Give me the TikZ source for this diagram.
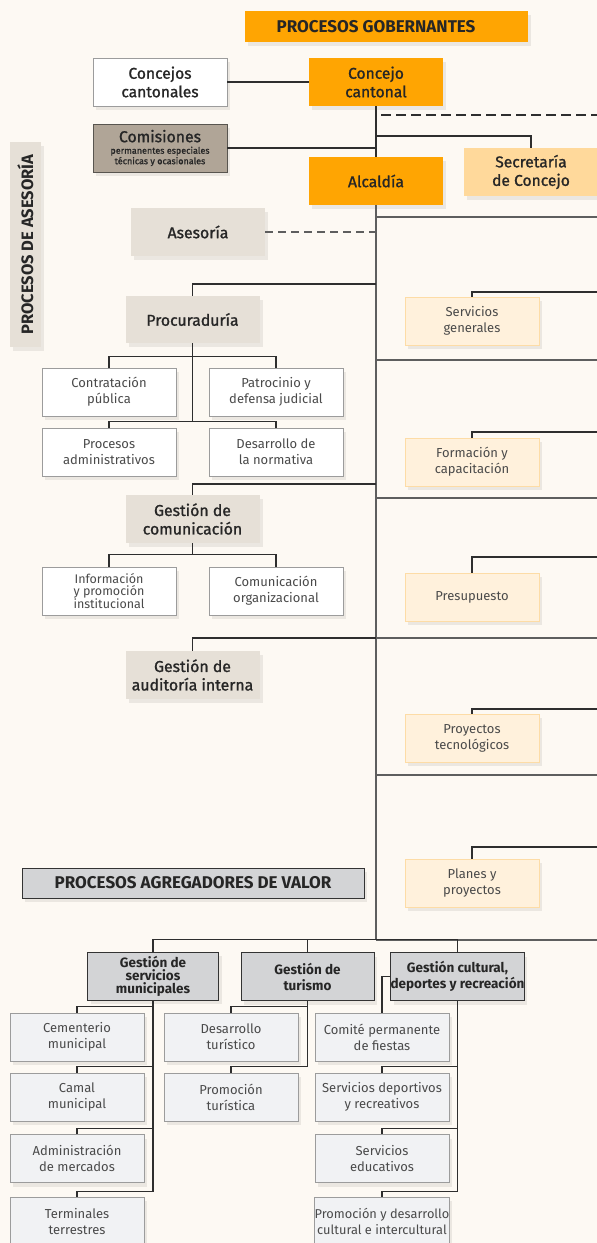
\documentclass[tikz,border=0pt]{standalone}
\usepackage{fontspec}
\setmainfont{Fira Sans}
\newfontfamily\fmed{Fira Sans}[FakeBold=1.2]
\newfontfamily\fsemi{Fira Sans Bold}
\newfontfamily\flight{Fira Sans}
\usetikzlibrary{shadows}
\definecolor{bgc}{HTML}{FDF9F3}
\definecolor{orangeC}{HTML}{FFA502}
\definecolor{secrC}{HTML}{FFD99B}
\definecolor{paleC}{HTML}{FFF1DC}
\definecolor{paleB}{HTML}{FDDCA6}
\definecolor{beigeC}{HTML}{E6E0D7}
\definecolor{comisC}{HTML}{B0A597}
\definecolor{comisB}{HTML}{58554F}
\definecolor{grayC}{HTML}{D3D4D6}
\definecolor{grayB}{HTML}{333333}
\definecolor{lgC}{HTML}{F1F2F4}
\definecolor{lgB}{HTML}{9C9C9C}
\definecolor{lineC}{HTML}{2E2E2E}
\definecolor{frameC}{HTML}{5E5E5E}
\definecolor{txtD}{HTML}{262626}
\definecolor{txtL}{HTML}{4A4A4A}
\tikzset{
  base/.style={rectangle, inner sep=0pt, align=center, minimum width=134pt, minimum height=48pt},
  shad/.style={drop shadow={shadow xshift=3pt, shadow yshift=-4pt, opacity=0.07, fill=black}},
  orangebox/.style={base, shad, fill=orangeC, text=txtD, font=\fmed\fontsize{15.6}{18.5}\selectfont},
  orangehead/.style={base, shad, fill=orangeC, text=txtD, font=\fsemi\fontsize{17}{19}\selectfont},
  secrbox/.style={base, shad, fill=secrC, text=txtD, font=\fmed\fontsize{15.6}{18.5}\selectfont},
  whitehead/.style={base, shad, fill=white, draw=lgB, line width=0.8pt, text=txtD, font=\fmed\fontsize{15.6}{18.5}\selectfont},
  whitebox/.style={base, shad, fill=white, draw=lgB, line width=0.8pt, text=txtL, font=\flight\fontsize{13}{16}\selectfont},
  comisbox/.style={base, shad, fill=comisC, draw=comisB, line width=0.9pt, text=txtD, font=\fmed\fontsize{9}{10.5}\selectfont},
  beigebox/.style={base, shad, fill=beigeC, text=txtD, font=\fmed\fontsize{15.8}{18.5}\selectfont},
  labelbox/.style={base, shad, fill=beigeC, text=txtD, font=\fsemi\fontsize{16.5}{18}\selectfont},
  palebox/.style={base, shad, fill=paleC, draw=paleB, line width=1pt, text=txtL, font=\flight\fontsize{13}{16}\selectfont},
  agvbox/.style={base, shad, fill=grayC, draw=grayB, line width=1pt, text=txtD, font=\fsemi\fontsize{17}{19}\selectfont},
  graybox/.style={base, shad, fill=grayC, draw=grayB, line width=1pt, text=txtD, font=\fsemi\fontsize{13.5}{13}\selectfont},
  lgbox/.style={base, shad, fill=lgC, draw=lgB, line width=0.8pt, text=txtL, font=\flight\fontsize{13}{16}\selectfont},
  conn/.style={draw=lineC, line width=1.1pt},
  framel/.style={draw=frameC, line width=2pt},
  dashdark/.style={draw=lineC, line width=1.1pt, dash pattern=on 10pt off 5pt},
  dashgray/.style={draw=frameC, line width=1.1pt, dash pattern=on 8pt off 5pt}
}
\begin{document}
\begin{tikzpicture}[x=1pt,y=-1pt]
\fill[bgc] (0,0) rectangle (597,1243);
\useasboundingbox (0,0) rectangle (597,1243);
\clip (0,0) rectangle (597,1243);

% ---------- nodes ----------
\node[orangehead, minimum width=283pt, minimum height=31pt] (gob) at (386.5,26.5) {\hspace*{-21pt}PROCESOS GOBERNANTES};
\node[whitehead] (cconc) at (160,82) {Concejos\\cantonales};
\node[orangebox] (ccant) at (376,82) {Concejo\\cantonal};
\node[comisbox] (comis) at (160,148) {{\fontsize{15.8}{15.8}\selectfont Comisiones}\\[1pt]permanentes especiales\\técnicas y ocasionales};
\node[orangebox] (alc) at (376,181) {Alcaldía};
\node[secrbox] (secr) at (531,172) {Secretaría\\de Concejo};
\node[beigebox] (ases) at (198,232) {Asesoría};
\node[labelbox, rotate=90, minimum width=205pt, minimum height=31pt] (lab) at (25.5,244.5) {PROCESOS DE ASESORÍA};

\node[beigebox, minimum height=47pt] (procu) at (192.5,319.5) {Procuraduría};
\node[whitebox] (contr) at (109,392) {Contratación\\pública};
\node[whitebox] (patro) at (276,392) {Patrocinio y\\defensa judicial};
\node[whitebox] (procad) at (109,452) {Procesos\\administrativos};
\node[whitebox] (desn) at (276,452) {Desarrollo de\\la normativa};
\node[beigebox] (gcom) at (192.5,519) {Gestión de\\comunicación};
\node[whitebox, font=\flight\fontsize{12.5}{12.5}\selectfont] (info) at (109,591) {Información\\y promoción\\institucional};
\node[whitebox] (corg) at (276,591) {Comunicación\\organizacional};
\node[beigebox] (audit) at (192.5,675) {Gestión de\\auditoría interna};

\node[palebox] (sgen) at (472,321) {Servicios\\generales};
\node[palebox] (form) at (472,462) {Formación y\\capacitación};
\node[palebox] (presu) at (472,597) {Presupuesto};
\node[palebox] (ptec) at (472,738) {Proyectos\\tecnológicos};
\node[palebox] (planes) at (472,883) {Planes y\\proyectos};

\node[agvbox, minimum width=342pt, minimum height=30pt] (agv) at (193,883) {PROCESOS AGREGADORES DE VALOR};
\node[graybox, minimum width=131pt] (gsm) at (153,976) {Gestión de\\servicios\\municipales};
\node[graybox, minimum width=133pt, font=\fsemi\fontsize{13.5}{16}\selectfont] (gtur) at (307.5,976.5) {Gestión de\\turismo};
\node[graybox, minimum width=133pt, font=\fsemi\fontsize{13.5}{16}\selectfont] (gcul) at (457.5,976.5) {Gestión cultural,\\deportes y recreación};

\node[lgbox] (cem) at (77,1037) {Cementerio\\municipal};
\node[lgbox] (camal) at (77,1097) {Camal\\municipal};
\node[lgbox] (admer) at (77,1158.5) {Administración\\de mercados};
\node[lgbox] (term) at (77,1221) {Terminales\\terrestres};
\node[lgbox] (destur) at (231,1037) {Desarrollo\\turístico};
\node[lgbox] (promtur) at (231,1097) {Promoción\\turística};
\node[lgbox] (comite) at (382,1037) {Comité permanente\\de fiestas};
\node[lgbox] (sdep) at (382,1097) {Servicios deportivos\\y recreativos};
\node[lgbox] (sedu) at (382,1158.5) {Servicios\\educativos};
\node[lgbox, font=\flight\fontsize{12.8}{16}\selectfont] (promcul) at (382,1221) {Promoción y desarrollo\\cultural e intercultural};

% ---------- coordinates ----------
\coordinate (dA) at (381,115);
\coordinate (dB) at (598,115);
\coordinate (sj) at (376,136);
\coordinate (vb) at (376,940);
\coordinate (aj) at (376,232);
\coordinate (b1) at (376,284);
\coordinate (b2) at (376,484);
\coordinate (b3) at (376,638);
\coordinate (pj) at (192.5,422);
\coordinate (r1) at (598,292);
\coordinate (r2) at (598,432);
\coordinate (r3) at (598,557);
\coordinate (r4) at (598,709);
\coordinate (r5) at (598,847);
\foreach \i/\yy in {1/217,2/360,3/498,4/638,5/775,6/940}{
  \coordinate (fl\i) at (376,\yy);
  \coordinate (fr\i) at (598,\yy);
}

% ---------- connectors ----------
\draw[conn] (cconc.east) -- (ccant.west);
\draw[conn] (ccant.south) -- (alc.north);
\draw[conn] (comis.east) -- (comis.east -| ccant.south);
\draw[dashdark] (dA) -- (dB);
\draw[conn] (sj) -| (secr.north);
\draw[dashgray] (ases.east) -- (aj);
\draw[framel] (alc.south) -- (vb);
\foreach \i in {1,...,6}{\draw[framel] (fl\i) -- (fr\i);}

\draw[conn] (b1) -| (procu.north);
\draw[conn] (procu.south) -- (pj);
\draw[conn] (contr.north) -- ++(0,-11) -| (patro.north);
\draw[conn] (procad.north) -- ++(0,-6) -| (desn.north);
\draw[conn] (b2) -| (gcom.north);
\draw[conn] (gcom.south) -- ++(0,12);
\draw[conn] (info.north) -- ++(0,-12) -| (corg.north);
\draw[conn] (b3) -| (audit.north);

\draw[conn] (sgen.north) |- (r1);
\draw[conn] (form.north) |- (r2);
\draw[conn] (presu.north) |- (r3);
\draw[conn] (ptec.north) |- (r4);
\draw[conn] (planes.north) |- (r5);

\draw[conn] (gsm.north) -- ++(0,-12) -| (gcul.north);
\draw[conn] (gtur.north) -- ++(0,-12);
\draw[conn] (cem.north) -- ++(0,-6) -| (gsm.south);
\draw[conn] (camal.north) -- ++(0,-6) -| (gsm.south);
\draw[conn] (admer.north) -- ++(0,-6) -| (gsm.south);
\draw[conn] (term.north) -- ++(0,-5) -| (gsm.south);
\draw[conn] (destur.north) -- ++(0,-6) -| (gtur.south);
\draw[conn] (promtur.north) -- ++(0,-6) -| (gtur.south);
\draw[conn] (gcul.west) -| (comite.north);
\draw[conn] (sdep.north) -- ++(0,-6) -| (gcul.south);
\draw[conn] (sedu.north) -- ++(0,-6) -| (gcul.south);
\draw[conn] (promcul.north) -- ++(0,-5) -| (gcul.south);
\end{tikzpicture}
\end{document}
